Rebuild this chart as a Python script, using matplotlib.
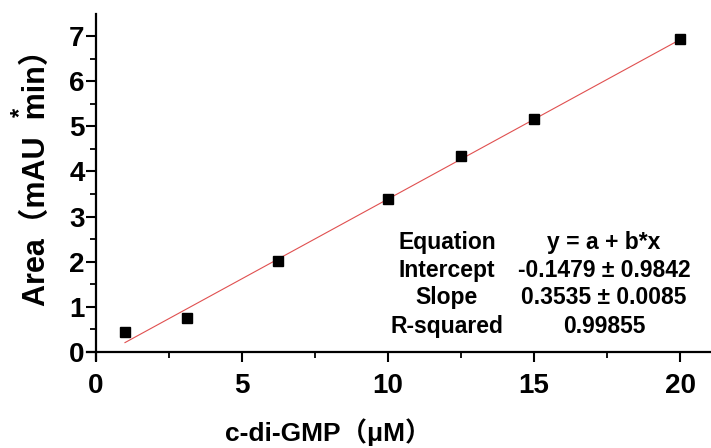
import numpy as np
import matplotlib
matplotlib.use('Agg')
import matplotlib.pyplot as plt
from matplotlib.ticker import MultipleLocator

# Данные
conc = [1, 3.125, 6.25, 10, 12.5, 15, 20]
area = [0.44, 0.75, 2.02, 3.39, 4.34, 5.17, 6.94]
intercept = -0.1479
slope = 0.3535
table_rows = ["Equation", "Intercept", "Slope", "R-squared"]
table_vals = ["y = a + b*x", "-0.1479 ± 0.9842", "0.3535 ± 0.0085", "0.99855"]

fams = ['Liberation Sans', 'Noto Sans CJK SC', 'DejaVu Sans']
plt.rcParams['font.family'] = fams
plt.rcParams['font.weight'] = 'bold'

fig = plt.figure(figsize=(7.11, 4.48), dpi=100)
ax = fig.add_axes([87 / 711, 88 / 448, 624 / 711, 346 / 448])

ax.set_xlim(-0.3, 21.06)
ax.set_ylim(-0.18, 7.49)

# Линия аппроксимации
xf = np.array([conc[0], conc[-1]])
ax.plot(xf, intercept + slope * xf, color='#e05050', linewidth=0.8)
ax.plot(conc, area, linestyle='none', marker='s', markersize=7.5, color='black')

# Оси
for s in ['top', 'right']:
    ax.spines[s].set_visible(False)
ax.spines['left'].set_position(('data', 0))
ax.spines['bottom'].set_position(('data', 0))
ax.spines['left'].set_linewidth(1.6)
ax.spines['bottom'].set_linewidth(1.6)

ax.xaxis.set_major_locator(MultipleLocator(5))
ax.xaxis.set_minor_locator(MultipleLocator(2.5))
ax.yaxis.set_major_locator(MultipleLocator(1))
ax.yaxis.set_minor_locator(MultipleLocator(0.5))
ax.set_xticks([0, 5, 10, 15, 20])
ax.set_yticks(range(0, 8))
ax.tick_params(which='major', direction='out', length=7, width=1.5, labelsize=20)
ax.tick_params(which='minor', direction='out', length=4, width=1.3)
ax.tick_params(axis='x', which='major', pad=8)
ax.tick_params(axis='y', which='major', pad=1)

# Подписи
fig.text(328 / 711, 1 - 432 / 448, "c-di-GMP（μM）", fontsize=19, fontweight='bold',
         ha='center', va='center')
fig.text(37 / 711, 1 - 170 / 448, "Area（mAU  min）", fontsize=22, fontweight='bold',
         ha='center', va='center', rotation=90)
fig.text(20 / 711, 1 - 112 / 448, "*", fontsize=17, fontweight='bold',
         ha='center', va='center', rotation=90)

# Таблица
row_y = [2.42, 1.80, 1.20, 0.56]
for name, val, yy in zip(table_rows, table_vals, row_y):
    ax.text(12.02, yy, name, fontsize=16.5, fontweight='bold', ha='center', va='center')
    ax.text(17.4, yy, val, fontsize=16.5, fontweight='bold', ha='center', va='center')

fig.savefig('out.png', dpi=100)
